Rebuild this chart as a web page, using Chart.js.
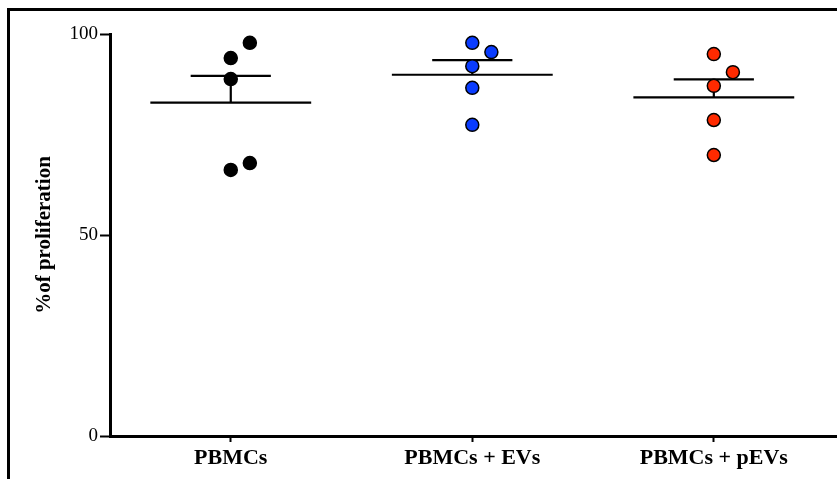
<!DOCTYPE html>
<html>
<head>
<meta charset="utf-8">
<script src="https://cdn.jsdelivr.net/npm/chart.js@4"></script>
<style>
  html, body { margin: 0; padding: 0; background: #fff; }
  #wrap { position: relative; width: 837px; height: 479px; overflow: hidden; }
  #frame { position: absolute; left: 7px; top: 8px; right: -10px; bottom: -10px;
           border-top: 3px solid #000; border-left: 3px solid #000; pointer-events: none; }
  canvas { position: absolute; left: 0; top: 0; }
</style>
</head>
<body>
<div id="wrap">
  <canvas id="chart" width="837" height="479"></canvas>
  <div id="frame"></div>
</div>
<script>
// Datos (% de proliferación)
const categories = ['PBMCs', 'PBMCs + EVs', 'PBMCs + pEVs'];
const pbmcsValues = [97.8, 94.0, 88.8, 67.9, 66.2];
const evsValues = [97.8, 95.5, 92.0, 86.6, 77.4];
const pevsValues = [95.0, 90.5, 87.1, 78.6, 69.9];
// columna del punto dentro del grupo (0 = centro, 1 = desplazado a la derecha)
const pbmcsColumn = [1, 0, 0, 1, 0];
const evsColumn = [0, 1, 0, 0, 0];
const pevsColumn = [0, 1, 0, 0, 0];
const yTicks = [0, 50, 100];

const groups = [
  { values: pbmcsValues, column: pbmcsColumn, fill: '#000000' },
  { values: evsValues, column: evsColumn, fill: '#0a3cff' },
  { values: pevsValues, column: pevsColumn, fill: '#ff2a00' }
];

const jitterStep = 0.079;   // separación horizontal entre columnas de puntos
const meanHalf = 0.333;     // media línea de la media
const capHalf = 0.166;      // media línea del SEM

function mean(arr) { return arr.reduce((a, b) => a + b, 0) / arr.length; }
function sem(arr) {
  const m = mean(arr);
  const v = arr.reduce((a, b) => a + (b - m) * (b - m), 0) / (arr.length - 1);
  return Math.sqrt(v) / Math.sqrt(arr.length);
}

const datasets = groups.map((g, i) => ({
  data: g.values.map((v, j) => ({ x: i + g.column[j] * jitterStep, y: v })),
  backgroundColor: g.fill,
  borderColor: '#000000',
  borderWidth: 1.5,
  pointRadius: 6.5,
  pointHoverRadius: 6.5
}));

// Línea de media y barra de SEM (solo hacia arriba)
const meanSemPlugin = {
  id: 'meanSem',
  beforeDatasetsDraw(chart) {
    const { ctx, scales: { x, y } } = chart;
    ctx.save();
    ctx.strokeStyle = '#000';
    ctx.lineWidth = 2.2;
    groups.forEach((g, i) => {
      const m = mean(g.values);
      const top = m + sem(g.values);
      ctx.beginPath();
      ctx.moveTo(x.getPixelForValue(i - meanHalf), y.getPixelForValue(m));
      ctx.lineTo(x.getPixelForValue(i + meanHalf), y.getPixelForValue(m));
      ctx.moveTo(x.getPixelForValue(i), y.getPixelForValue(m));
      ctx.lineTo(x.getPixelForValue(i), y.getPixelForValue(top));
      ctx.moveTo(x.getPixelForValue(i - capHalf), y.getPixelForValue(top));
      ctx.lineTo(x.getPixelForValue(i + capHalf), y.getPixelForValue(top));
      ctx.stroke();
    });
    ctx.restore();
  }
};

new Chart(document.getElementById('chart'), {
  type: 'scatter',
  data: { datasets },
  options: {
    responsive: false,
    animation: false,
    devicePixelRatio: 1,
    layout: { autoPadding: false, padding: { top: 34, right: 0, left: 0, bottom: 0 } },
    plugins: { legend: { display: false }, tooltip: { enabled: false } },
    scales: {
      x: {
        type: 'linear',
        min: -0.5,
        max: 2.51,
        afterBuildTicks: (s) => { s.ticks = categories.map((c, i) => ({ value: i })); },
        afterFit: (s) => { s.height = 43; },
        ticks: {
          callback: (v) => categories[v],
          color: '#000',
          font: { family: "'Liberation Serif', 'Times New Roman', serif", size: 22, weight: 'bold' },
          padding: 3,
          maxRotation: 0
        },
        grid: { drawOnChartArea: false, tickLength: 6, tickWidth: 2, tickColor: '#000' },
        border: { color: '#000', width: 3 }
      },
      y: {
        min: 0,
        max: 100,
        afterBuildTicks: (s) => { s.ticks = yTicks.map(v => ({ value: v })); },
        afterFit: (s) => { s.width = 110; },
        ticks: {
          color: '#000',
          font: { family: "'Liberation Serif', 'Times New Roman', serif", size: 19 },
          padding: 2
        },
        grid: { drawOnChartArea: false, tickLength: 10, tickWidth: 2, tickColor: '#000' },
        border: { color: '#000', width: 3 },
        title: {
          display: true,
          text: '%of proliferation',
          color: '#000',
          font: { family: "'Liberation Serif', 'Times New Roman', serif", size: 21, weight: 'bold' },
          padding: { top: 32, bottom: 0 }
        }
      }
    }
  },
  plugins: [meanSemPlugin]
});
</script>
</body>
</html>
